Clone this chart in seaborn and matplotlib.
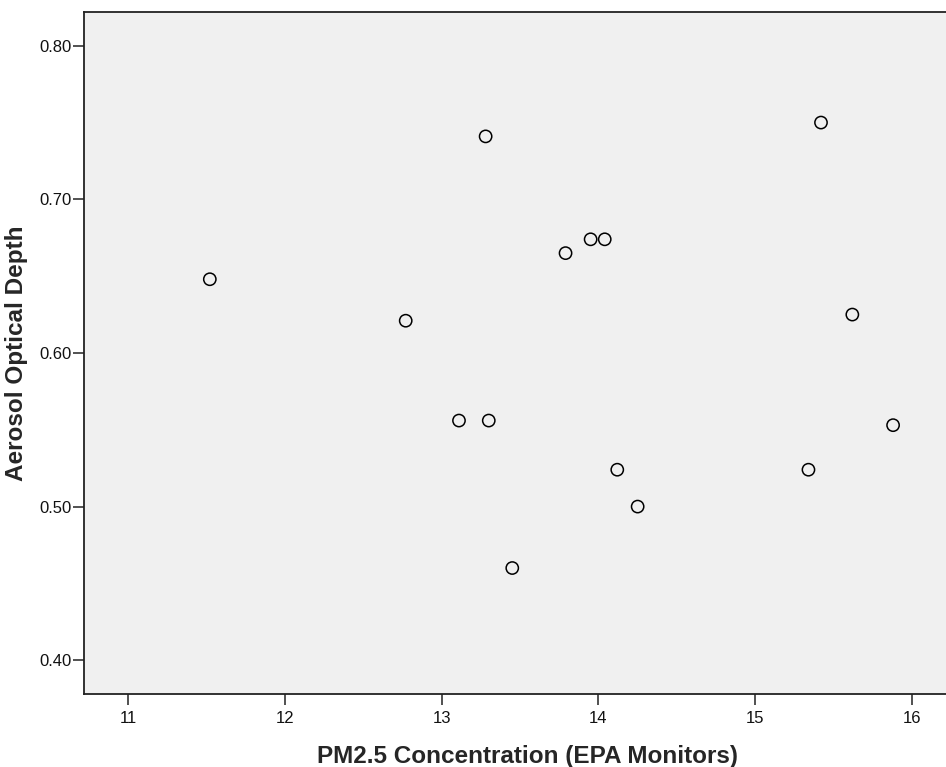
import numpy as np
import pandas as pd
import seaborn as sns
import matplotlib.pyplot as plt

# values
pm25 = [11.52, 12.77, 13.11, 13.30, 13.28, 13.45, 13.79, 13.95, 14.04,
        14.12, 14.25, 15.34, 15.42, 15.62, 15.88]
aod = [0.648, 0.621, 0.556, 0.556, 0.741, 0.460, 0.665, 0.674, 0.674,
       0.524, 0.500, 0.524, 0.750, 0.625, 0.553]

x_ticks = [11, 12, 13, 14, 15, 16]
y_ticks = [0.40, 0.50, 0.60, 0.70, 0.80]

df = pd.DataFrame({'pm25': pm25, 'aod': aod})

sns.set_style('white')
plt.rcParams['font.family'] = ['Liberation Sans', 'DejaVu Sans']

fig = plt.figure(figsize=(9.46, 7.67), dpi=100)
# the plot area runs a little past the right edge of the picture (cropped)
ax = fig.add_axes([0.0891, 0.0952, 0.9363, 0.8892])
ax.set_facecolor('#f0f0f0')

sns.scatterplot(data=df, x='pm25', y='aod', ax=ax, s=78,
                facecolor='none', edgecolor='black', linewidth=1.1)

ax.set_xlim(10.719, 16.371)
ax.set_ylim(0.378, 0.822)
ax.set_xticks(x_ticks)
ax.set_yticks(y_ticks)
ax.set_yticklabels([f'{v:.2f}' for v in y_ticks])

for side in ['left', 'bottom', 'top', 'right']:
    ax.spines[side].set_color('#222222')
    ax.spines[side].set_linewidth(1.3)

ax.tick_params(axis='both', direction='out', length=8, width=1.1,
               color='#222222', labelsize=12, labelcolor='#111111',
               bottom=True, left=True)
ax.tick_params(axis='y', pad=1)
ax.tick_params(axis='x', pad=4)

ax.set_xlabel('PM2.5 Concentration (EPA Monitors)', fontsize=17.5,
              fontweight='bold', labelpad=14)
ax.set_ylabel('Aerosol Optical Depth', fontsize=17.5, fontweight='bold',
              labelpad=8)

fig.savefig('out.png', dpi=100)
